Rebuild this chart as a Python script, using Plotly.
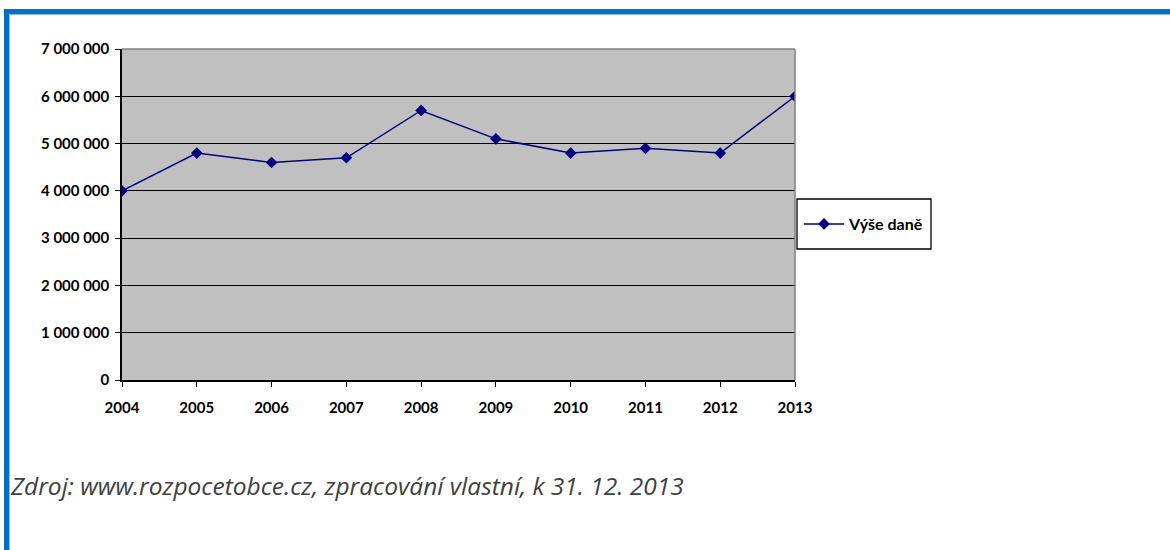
import plotly.graph_objects as go

years = ["2004", "2005", "2006", "2007", "2008", "2009", "2010", "2011", "2012", "2013"]
tax_values = [4000000, 4800000, 4600000, 4700000, 5700000, 5100000, 4800000, 4900000, 4800000, 6000000]
series_name = "Výše daně"
y_ticks = [0, 1000000, 2000000, 3000000, 4000000, 5000000, 6000000, 7000000]
caption = "Zdroj: www.rozpocetobce.cz, zpracování vlastní, k 31. 12. 2013"

W, H = 1170, 550
L, R, T, B = 122, 795, 49, 380

def px(x):
    return (x - L) / (R - L)

def py(y):
    return (B - y) / (B - T)

fig = go.Figure()
fig.add_trace(go.Scatter(
    x=years, y=tax_values, name=series_name, mode="lines+markers",
    line=dict(color="#000080", width=1.5),
    marker=dict(symbol="diamond", size=9, color="#000080"),
))

font_fam = "Lato, 'Open Sans', sans-serif"
tick_font = dict(family=font_fam, size=15, color="black", weight="bold")
fig.update_layout(
    width=W, height=H,
    margin=dict(l=L, r=W - R, t=T, b=H - B, pad=0),
    paper_bgcolor="white", plot_bgcolor="#C0C0C0",
    separators=", ",
    showlegend=True,
    legend=dict(x=px(799), y=py(224), xanchor="left", yanchor="middle",
                borderwidth=0, bgcolor="rgba(0,0,0,0)",
                font=dict(family=font_fam, size=16, color="black", weight="bold"),
                itemwidth=40),
    xaxis=dict(type="category", range=[0, 9], showgrid=False,
               showline=True, linecolor="black", linewidth=1.5,
               ticks="outside", ticklen=5, tickcolor="black",
               tickfont=tick_font, ticklabelstandoff=8, fixedrange=True),
    yaxis=dict(range=[0, 7000000], tickvals=y_ticks, tickformat=",d",
               showgrid=True, gridcolor="black", gridwidth=1.3,
               showline=True, linecolor="black", linewidth=1.5,
               ticks="outside", ticklen=5, tickcolor="black",
               tickfont=tick_font, ticklabelstandoff=3,
               zeroline=False, fixedrange=True),
    font=dict(family=font_fam),
)

shapes = []
shapes.append(dict(type="line", xref="paper", yref="paper", x0=0, x1=1, y0=1, y1=1,
                   line=dict(color="#808080", width=1.5)))
shapes.append(dict(type="line", xref="paper", yref="paper", x0=1, x1=1, y0=0, y1=1,
                   line=dict(color="#808080", width=1.5)))
# legend box
shapes.append(dict(type="rect", xref="paper", yref="paper", x0=px(797), x1=px(931), y0=py(249), y1=py(199),
                   fillcolor="white", line=dict(color="black", width=1.3), layer="above"))
shapes.append(dict(type="rect", xref="paper", yref="paper", x0=px(4), x1=px(W + 2), y0=py(14), y1=py(9),
                   fillcolor="#0070C0", line=dict(width=0), layer="above"))
shapes.append(dict(type="rect", xref="paper", yref="paper", x0=px(9), x1=px(W + 2), y0=py(15), y1=py(14),
                   fillcolor="#8DB9E2", line=dict(width=0), layer="above"))
shapes.append(dict(type="rect", xref="paper", yref="paper", x0=px(4), x1=px(9), y0=py(H + 2), y1=py(9),
                   fillcolor="#0070C0", line=dict(width=0), layer="above"))
shapes.append(dict(type="rect", xref="paper", yref="paper", x0=px(9), x1=px(10), y0=py(H + 2), y1=py(14),
                   fillcolor="#8DB9E2", line=dict(width=0), layer="above"))
fig.update_layout(shapes=shapes)

fig.add_annotation(text=caption, xref="paper", yref="paper", x=px(8), y=py(485),
                   xanchor="left", yanchor="middle", showarrow=False,
                   font=dict(family="'Open Sans', sans-serif", size=24.5, color="#404040", style="italic"))

fig.write_html("out.html", config={"displayModeBar": False},
               post_script="document.body.style.margin='0';document.body.style.overflow='hidden';")
